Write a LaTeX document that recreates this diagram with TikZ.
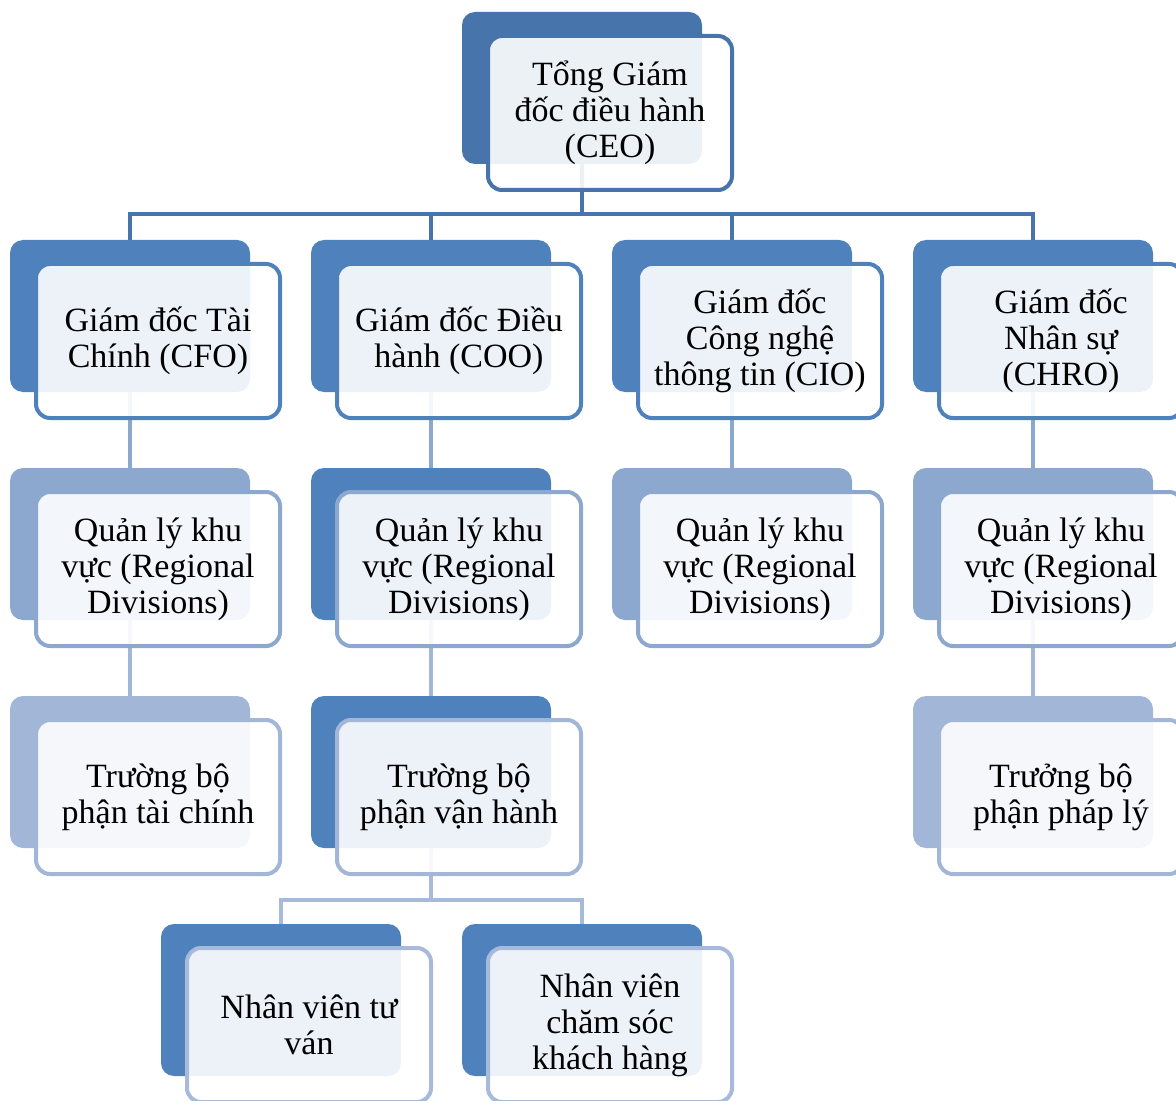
\documentclass[tikz,border=0pt]{standalone}
\usepackage{fontspec}
\setmainfont{Liberation Serif}
\definecolor{ceoblue}{HTML}{4674AB}
\definecolor{midblue}{HTML}{4F81BD}
\definecolor{lightblue}{HTML}{8DA8CE}
\definecolor{paleblue}{HTML}{A2B6D7}
\definecolor{palerblue}{HTML}{A7BAD9}
\tikzset{
  backbox/.style={fill=#1, rounded corners=6.5pt, minimum width=120pt, minimum height=76pt, inner sep=0pt},
  frontbox/.style={draw=#1, line width=2pt, fill=white, fill opacity=0.9, text opacity=1,
    rounded corners=7pt, minimum width=122pt, minimum height=77pt, inner sep=0pt,
    align=center, font=\fontsize{17}{18}\selectfont},
  link/.style={draw=#1, line width=2pt},
}
\begin{document}
\begin{tikzpicture}[x=0.5pt,y=-0.5pt]
\clip (0,0) rectangle (1176,1101);
% back boxes
\node[backbox=ceoblue] (ceoB) at (582,88) {};
\node[backbox=midblue] (cfoB) at (130,316) {};
\node[backbox=midblue] (cooB) at (431,316) {};
\node[backbox=midblue] (cioB) at (732,316) {};
\node[backbox=midblue] (chroB) at (1033,316) {};
\node[backbox=lightblue] (cfoRB) at (130,544) {};
\node[backbox=midblue] (cooRB) at (431,544) {};
\node[backbox=lightblue] (cioRB) at (732,544) {};
\node[backbox=lightblue] (chroRB) at (1033,544) {};
\node[backbox=paleblue] (cfoHB) at (130,772) {};
\node[backbox=midblue] (cooHB) at (431,772) {};
\node[backbox=paleblue] (chroHB) at (1033,772) {};
\node[backbox=midblue] (advB) at (281,1000) {};
\node[backbox=midblue] (careB) at (582,1000) {};
% connectors
\draw[link=ceoblue] (ceoB.south) -- ++(0,50) -| (cfoB.north);
\draw[link=ceoblue] (ceoB.south) -- ++(0,50) -| (cooB.north);
\draw[link=ceoblue] (ceoB.south) -- ++(0,50) -| (cioB.north);
\draw[link=ceoblue] (ceoB.south) -- ++(0,50) -| (chroB.north);
\draw[link=lightblue] (cfoB.south) -- (cfoRB.north);
\draw[link=lightblue] (cooB.south) -- (cooRB.north);
\draw[link=lightblue] (cioB.south) -- (cioRB.north);
\draw[link=lightblue] (chroB.south) -- (chroRB.north);
\draw[link=paleblue] (cfoRB.south) -- (cfoHB.north);
\draw[link=paleblue] (cooRB.south) -- (cooHB.north);
\draw[link=paleblue] (chroRB.south) -- (chroHB.north);
\draw[link=palerblue] (cooHB.south) -- ++(0,52) -| (advB.north);
\draw[link=palerblue] (cooHB.south) -- ++(0,52) -| (careB.north);
% front boxes
\node[frontbox=ceoblue] (ceo) at (610,113) {Tổng Giám\\đốc điều hành\\(CEO)};
\node[frontbox=midblue] (cfo) at (158,341) {Giám đốc Tài\\Chính (CFO)};
\node[frontbox=midblue] (coo) at (459,341) {Giám đốc Điều\\hành (COO)};
\node[frontbox=midblue] (cio) at (760,341) {Giám đốc\\Công nghệ\\thông tin (CIO)};
\node[frontbox=midblue] (chro) at (1061,341) {Giám đốc\\Nhân sự\\(CHRO)};
\node[frontbox=lightblue] (cfoR) at (158,569) {Quản lý khu\\vực (Regional\\Divisions)};
\node[frontbox=lightblue] (cooR) at (459,569) {Quản lý khu\\vực (Regional\\Divisions)};
\node[frontbox=lightblue] (cioR) at (760,569) {Quản lý khu\\vực (Regional\\Divisions)};
\node[frontbox=lightblue] (chroR) at (1061,569) {Quản lý khu\\vực (Regional\\Divisions)};
\node[frontbox=paleblue] (cfoH) at (158,797) {Trường bộ\\phận tài chính};
\node[frontbox=paleblue] (cooH) at (459,797) {Trường bộ\\phận vận hành};
\node[frontbox=paleblue] (chroH) at (1061,797) {Trưởng bộ\\phận pháp lý};
\node[frontbox=palerblue] (adv) at (309,1025) {Nhân viên tư\\ván};
\node[frontbox=palerblue] (care) at (610,1025) {Nhân viên\\chăm sóc\\khách hàng};
\end{tikzpicture}
\end{document}
